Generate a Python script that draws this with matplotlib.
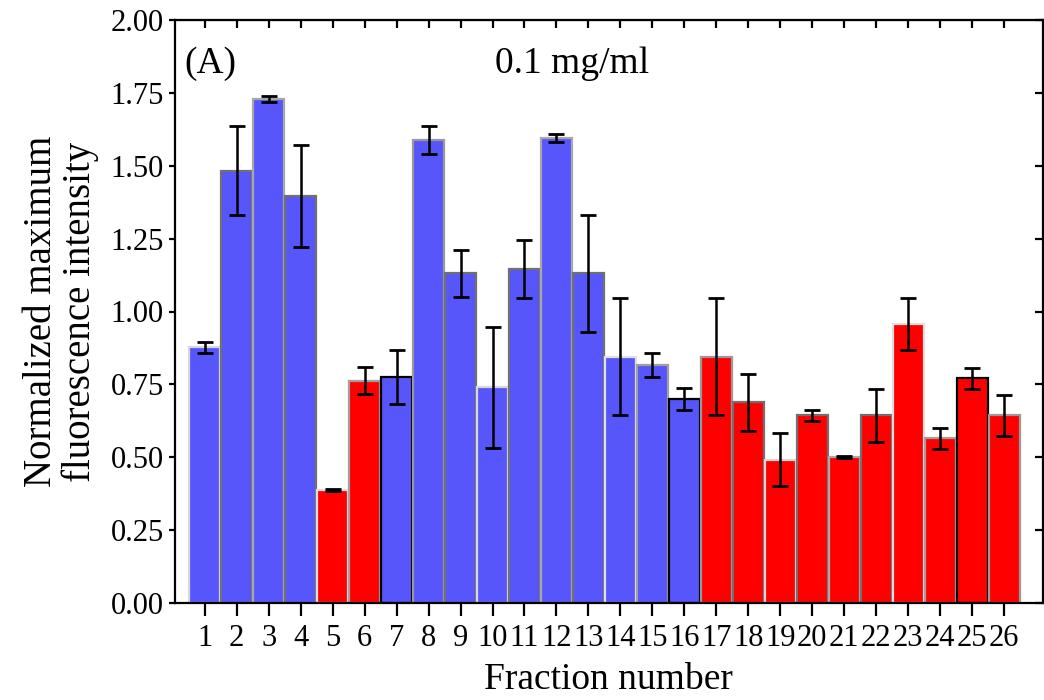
import matplotlib.pyplot as plt

plt.rcParams['font.family'] = ['Liberation Serif', 'DejaVu Serif']

# fraction numbers and measured values
fractions = list(range(1, 27))
values = [0.877, 1.483, 1.729, 1.397, 0.388, 0.763, 0.775, 1.588, 1.131, 0.740,
          1.147, 1.596, 1.131, 0.845, 0.816, 0.699, 0.845, 0.689, 0.491, 0.644,
          0.501, 0.644, 0.957, 0.565, 0.771, 0.644]
errors = [0.020, 0.153, 0.010, 0.175, 0.004, 0.045, 0.093, 0.048, 0.080, 0.207,
          0.100, 0.013, 0.200, 0.200, 0.040, 0.037, 0.200, 0.098, 0.091, 0.018,
          0.003, 0.091, 0.088, 0.037, 0.036, 0.071]
groups = ['b', 'b', 'b', 'b', 'r', 'r', 'b', 'b', 'b', 'b', 'b', 'b', 'b',
          'b', 'b', 'b', 'r', 'r', 'r', 'r', 'r', 'r', 'r', 'r', 'r', 'r']

fill = {'b': '#5656fa', 'r': '#ff0000'}
edge_cycle = ['#d8d8d8', '#707070', '#a8a8a8', '#707070', '#e0e0e0',
              '#a0a0a0', '#000000', '#999999', '#707070']

colors = [fill[g] for g in groups]
edges = [edge_cycle[i % 9] for i in range(len(fractions))]

fig = plt.figure(figsize=(10.44, 7), dpi=100)
ax = fig.add_axes([0.1676, 0.1386, 0.831, 0.8328])

ax.bar(fractions, values, width=0.97, color=colors, edgecolor=edges,
       linewidth=1.6, zorder=2)
ax.errorbar(fractions, values, yerr=errors, fmt='none', ecolor='black',
            elinewidth=1.8, capsize=5.8, capthick=2.0, zorder=3)

ax.set_xlim(0.07, 27.2)
ax.set_ylim(0, 2.0)
ax.set_xticks(fractions)
ax.set_yticks([0, 0.25, 0.5, 0.75, 1.0, 1.25, 1.5, 1.75, 2.0])
ax.set_yticklabels(['0.00', '0.25', '0.50', '0.75', '1.00', '1.25', '1.50',
                    '1.75', '2.00'])

for s in ax.spines.values():
    s.set_linewidth(1.6)

ax.tick_params(axis='x', direction='out', length=9, width=1.6,
               labelsize=22, pad=6)
ax.tick_params(axis='y', direction='out', length=4, width=1.6,
               labelsize=22, pad=4)

top = ax.secondary_xaxis('top')
top.set_xticks(fractions)
top.tick_params(direction='in', length=6, width=1.6, labeltop=False)
right = ax.secondary_yaxis('right')
right.set_yticks([0, 0.25, 0.5, 0.75, 1.0, 1.25, 1.5, 1.75, 2.0])
right.tick_params(direction='in', length=6, width=1.6, labelright=False)

ax.set_xlabel('Fraction number', fontsize=27, labelpad=7)
ax.set_ylabel('Normalized maximum\nfluorescence intensity', fontsize=28,
              labelpad=8, linespacing=1.05)

ax.text(0.011, 0.955, '(A)', transform=ax.transAxes, fontsize=27,
        ha='left', va='top')
ax.text(0.458, 0.955, '0.1 mg/ml', transform=ax.transAxes, fontsize=27,
        ha='center', va='top')

fig.savefig('out.png', dpi=100)
